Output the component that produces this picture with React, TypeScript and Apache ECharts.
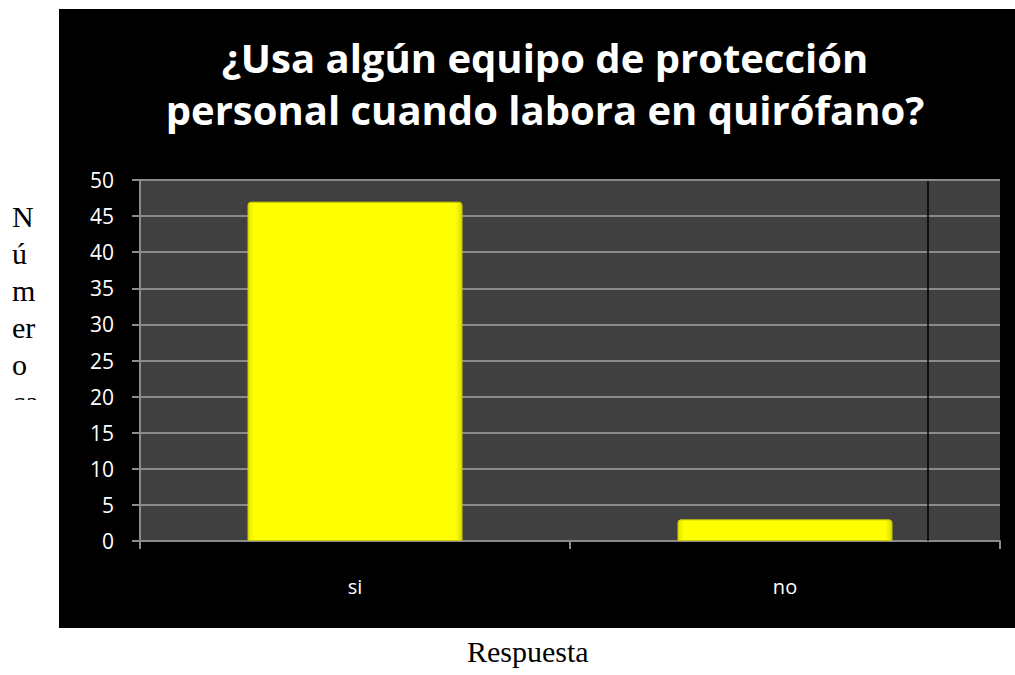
import React, { useEffect, useRef } from "react";
import * as echarts from "echarts";

const categories = ["si", "no"];
const values = [47, 3];
const yTicks = { min: 0, max: 50, interval: 5 };
const titleLines = ["¿Usa algún equipo de protección", "personal cuando labora en quirófano?"];
const yAxisTitleParts = ["N", "ú", "m", "er", "o", "ca"];
const xAxisTitle = "Respuesta";

export default function App() {
  const ref = useRef<HTMLDivElement>(null);
  useEffect(() => {
    if (!ref.current) return;
    const chart = echarts.init(ref.current, null, { renderer: "svg" });
    const sans = "'Open Sans', 'Noto Sans', sans-serif";
    const serif = "'Liberation Serif', 'DejaVu Serif', serif";
    const leftTexts: any[] = yAxisTitleParts.map((t, i) => ({
      type: "text",
      left: 12,
      top: 201 + i * 37,
      z: 1,
      style: { text: t, font: `30px ${serif}`, fill: "#000" },
    }));
    chart.setOption({
      animation: false,
      backgroundColor: "#ffffff",
      title: {
        text: titleLines.join("\n"),
        left: 540,
        textAlign: "center",
        top: 26,
        textStyle: {
          color: "#ffffff",
          fontSize: 40,
          fontWeight: "bold",
          fontFamily: sans,
          lineHeight: 52,
        },
      },
      grid: {
        left: 140,
        right: 15,
        top: 180,
        bottom: 134,
        show: true,
        backgroundColor: "#404040",
        borderWidth: 0,
      },
      xAxis: {
        type: "category",
        data: categories,
        axisLine: { show: true, lineStyle: { color: "#8a8a8a", width: 2 } },
        axisTick: { show: true, length: 8, alignWithLabel: false, lineStyle: { color: "#8a8a8a", width: 2 } },
        axisLabel: { color: "#ffffff", fontSize: 20, fontFamily: sans, margin: 35 },
      },
      yAxis: {
        type: "value",
        min: yTicks.min,
        max: yTicks.max,
        interval: yTicks.interval,
        axisLine: { show: true, lineStyle: { color: "#8a8a8a", width: 2 } },
        axisTick: { show: true, length: 8, lineStyle: { color: "#8a8a8a", width: 2 } },
        axisLabel: { color: "#ffffff", fontSize: 21, fontFamily: sans, margin: 26 },
        splitLine: { show: true, lineStyle: { color: "#8a8a8a", width: 2 } },
      },
      series: [
        {
          type: "bar",
          data: values,
          barWidth: "50%",
          itemStyle: {
            color: {
              type: "linear",
              x: 0, y: 0, x2: 1, y2: 0,
              colorStops: [
                { offset: 0, color: "#e6e600" },
                { offset: 0.03, color: "#ffff00" },
                { offset: 0.97, color: "#ffff00" },
                { offset: 1, color: "#d9d900" },
              ],
            },
            borderColor: "#c8c800",
            borderWidth: 1,
            borderRadius: [3, 3, 0, 0],
          },
          z: 3,
        },
      ],
      graphic: [
        {
          type: "rect",
          left: 59,
          top: 9,
          z: -10,
          silent: true,
          shape: { width: 956, height: 619 },
          style: { fill: "#000000" },
        },
        {
          type: "line",
          z: 10,
          silent: true,
          shape: { x1: 928, y1: 181, x2: 928, y2: 541 },
          style: { stroke: "#000000", lineWidth: 1.5 },
        },
        ...leftTexts,
        {
          type: "rect",
          left: 0,
          top: 400,
          z: 5,
          silent: true,
          shape: { width: 58, height: 40 },
          style: { fill: "#ffffff" },
        },
        {
          type: "text",
          left: 467,
          top: 636,
          style: {
            text: xAxisTitle,
            font: `30px ${serif}`,
            fill: "#000",
          },
        },
      ],
    });
    return () => chart.dispose();
  }, []);
  return (
    <div
      ref={ref}
      style={{ position: "absolute", left: 0, top: 0, width: 1015, height: 675 }}
    />
  );
}
